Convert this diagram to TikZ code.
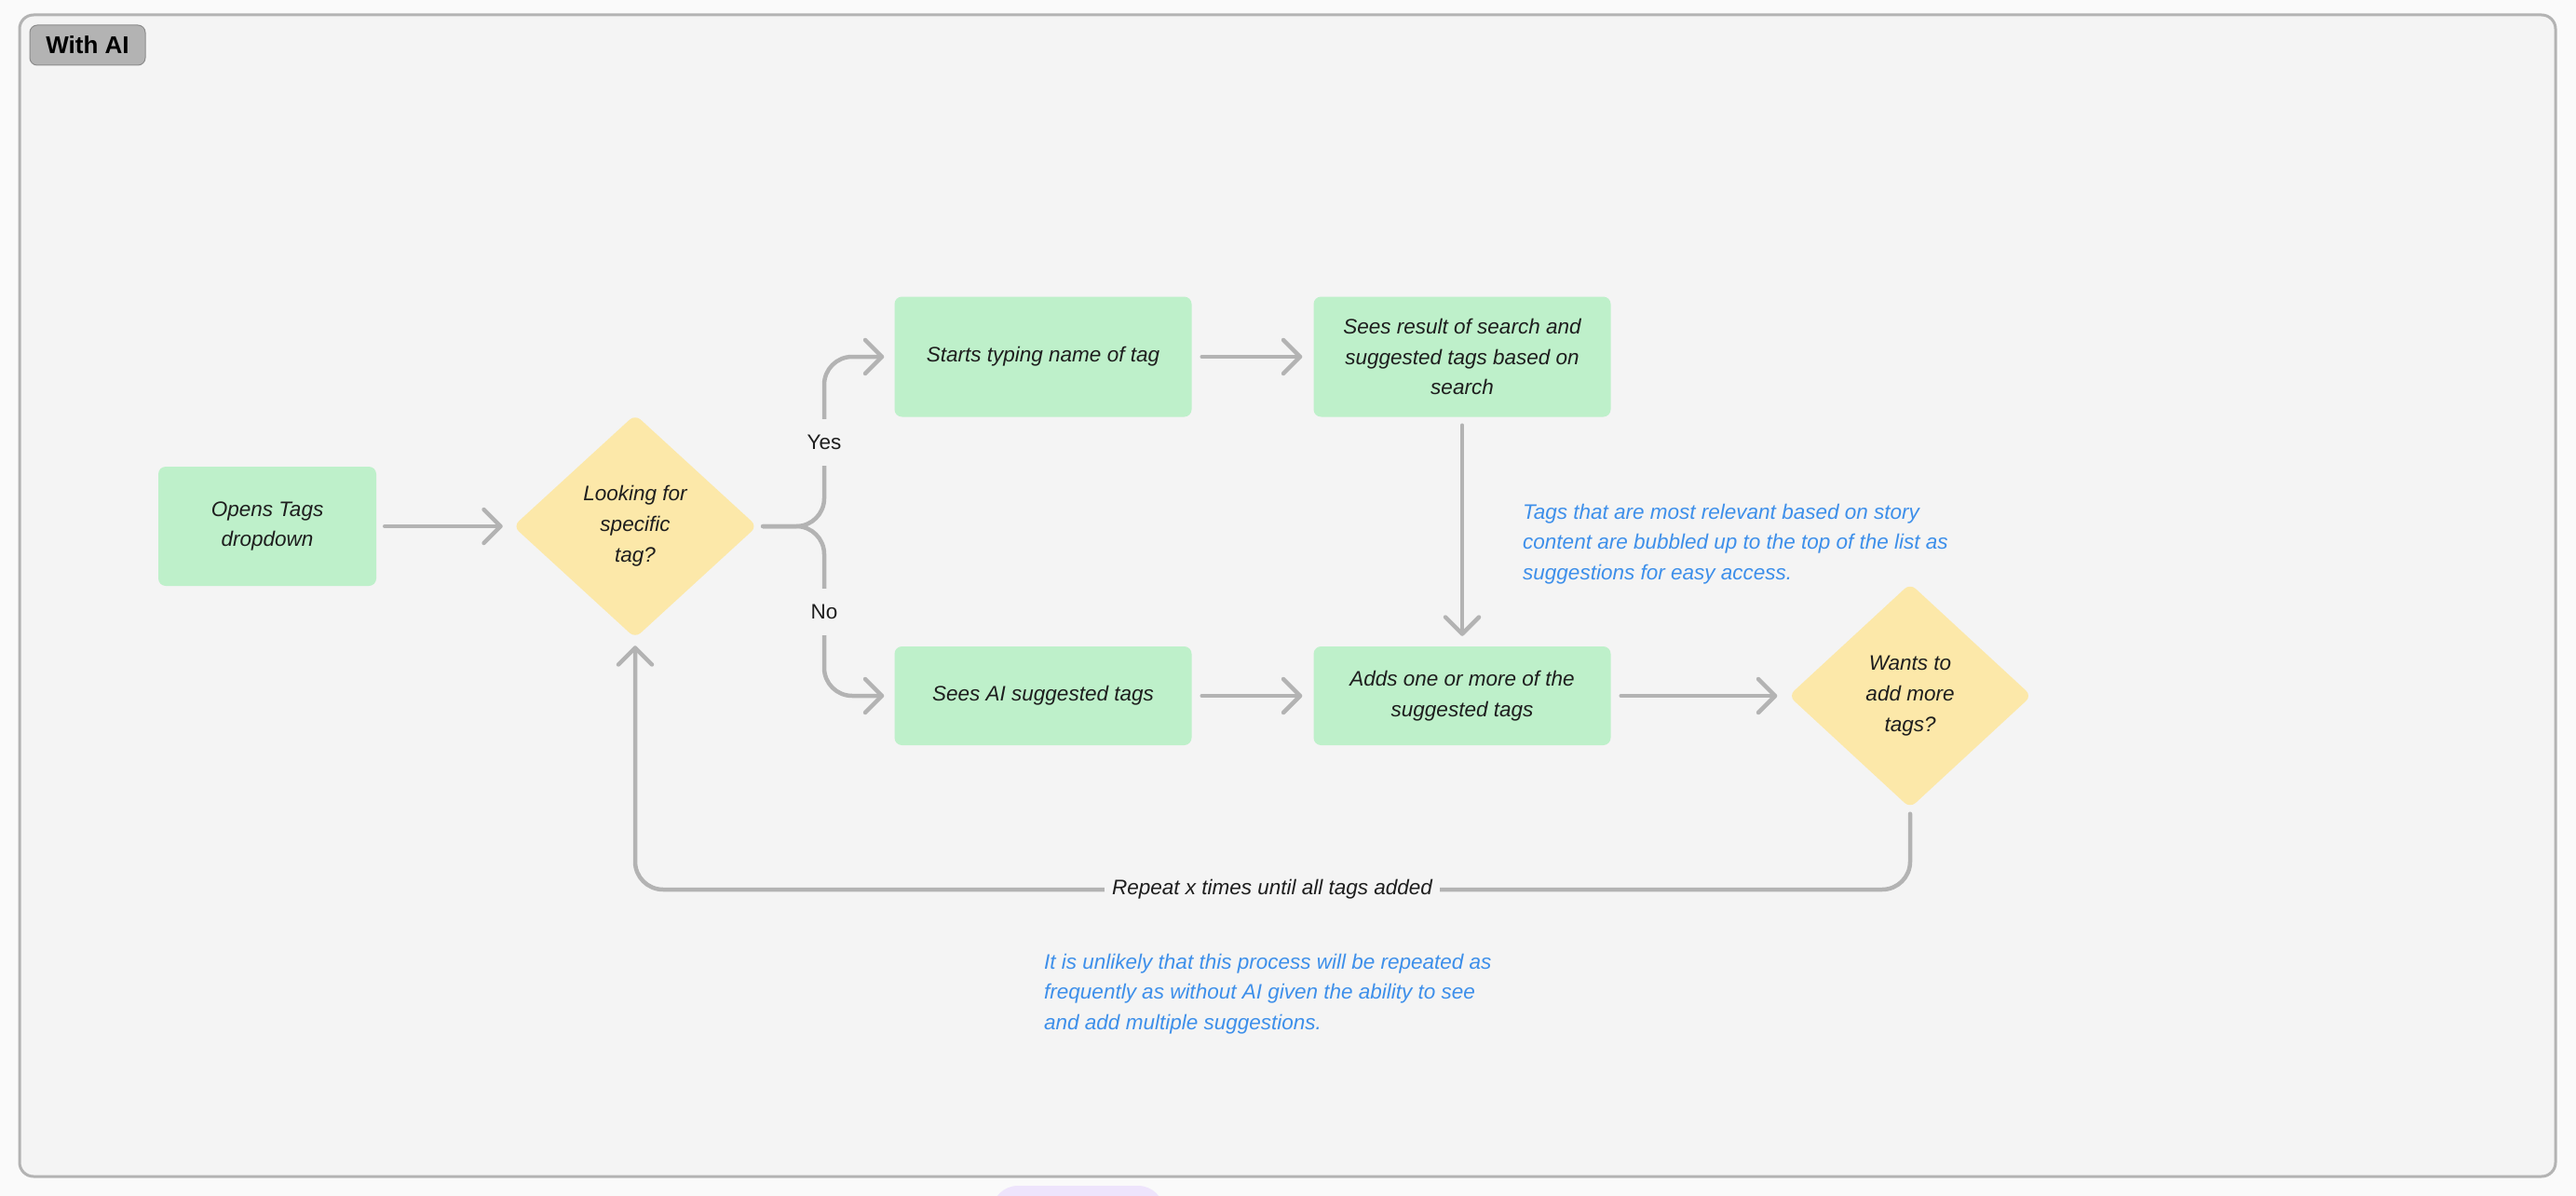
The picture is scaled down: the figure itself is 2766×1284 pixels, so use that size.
\documentclass[tikz,border=0pt]{standalone}
\usepackage{fontspec}
\setmainfont{Liberation Sans}
\usetikzlibrary{arrows.meta,shapes.geometric}
\definecolor{bgout}{HTML}{FAFAFA}
\definecolor{framefill}{HTML}{F4F4F4}
\definecolor{edgegrey}{HTML}{B3B3B3}
\definecolor{boxgreen}{HTML}{BEF0CA}
\definecolor{boxyellow}{HTML}{FCE8A9}
\definecolor{notecol}{HTML}{3D8FEA}
\definecolor{ink}{HTML}{1E1E1E}
\definecolor{lav}{HTML}{EEE4FC}
\begin{document}
\begin{tikzpicture}[x=1pt,y=-1pt,
  stepbox/.style={rectangle, rounded corners=8pt, fill=boxgreen, minimum width=319pt, text=ink,
    font=\fontsize{22.5}{32.5}\selectfont\itshape, align=center, inner sep=0pt},
  decision/.style={diamond, rounded corners=8pt, fill=boxyellow, inner sep=0pt, text=ink,
    font=\fontsize{22.5}{33}\selectfont\itshape, align=center},
  conn/.style={draw=edgegrey, line width=4.5pt, line cap=round, line join=round,
    -{Straight Barb[length=18pt,width=36pt,round]}},
  lbl/.style={fill=framefill, text=ink, font=\fontsize{22.5}{27}\selectfont, inner xsep=8pt, inner ysep=17pt},
  notetext/.style={text=notecol, font=\fontsize{22.5}{32.5}\selectfont\itshape, align=left, anchor=west, inner sep=0pt}
]
\useasboundingbox (0,0) rectangle (2766,1284);
\fill[bgout] (0,0) rectangle (2766,1284);
\begin{scope}
  \clip (0,0) rectangle (2766,1284);
  \fill[lav, rounded corners=28pt] (1065,1273) rectangle (1250,1340);
\end{scope}
\draw[edgegrey, line width=3pt, fill=framefill, rounded corners=15pt] (21,16) rectangle (2744,1263);

\node[fill=edgegrey, draw=black!45, line width=1pt, rounded corners=8pt, minimum width=124pt, minimum height=43pt,
  inner sep=0pt, font=\fontsize{26}{30}\selectfont\bfseries] (title) at (94,48.5) {With AI};

\node[stepbox, minimum width=234pt, minimum height=128pt] (opens) at (287,565) {Opens Tags\\dropdown};
\node[decision, minimum width=262pt, minimum height=240pt] (d1) at (682,565) {Looking for\\specific\\tag?};
\node[stepbox, minimum height=129pt] (st) at (1120,383) {Starts typing name of tag};
\node[stepbox, minimum height=129pt] (sr) at (1570,383) {Sees result of search and\\suggested tags based on\\search};
\node[stepbox, minimum height=106pt] (ai) at (1120,747) {Sees AI suggested tags};
\node[stepbox, minimum height=106pt] (ad) at (1570,747) {Adds one or more of the\\suggested tags};
\node[decision, minimum width=261pt, minimum height=241pt] (d2) at (2051,747) {Wants to\\add more\\tags?};

\coordinate (bx) at (885,565);
\coordinate (lp) at (2051,955);

\draw[conn, shorten <=9pt, shorten >=11pt] (opens.east) -- (d1.west);
\draw[conn, rounded corners=30pt] ([xshift=6pt]d1.east) -- (bx) -- (bx |- st.west) -- ([xshift=-11pt]st.west);
\draw[conn, rounded corners=30pt] ([xshift=6pt]d1.east) -- (bx) -- (bx |- ai.west) -- ([xshift=-11pt]ai.west);
\draw[conn, shorten <=11pt, shorten >=12pt] (st.east) -- (sr.west);
\draw[conn, shorten <=11pt, shorten >=12pt] (ai.east) -- (ad.west);
\draw[conn, shorten <=9pt, shorten >=11pt] (sr.south) -- (ad.north);
\draw[conn, shorten <=11pt, shorten >=12pt] (ad.east) -- (d2.west);
\draw[conn, rounded corners=30pt] ([yshift=-6pt]d2.south) -- (lp) -- (lp -| d1.south) -- ([yshift=-8pt]d1.south);

\node[lbl] (yes) at (885,475) {Yes};
\node[lbl] (no) at (885,657) {No};
\node[lbl, inner ysep=6pt, font=\fontsize{22.5}{27}\selectfont\itshape] (rep) at (1366,955) {Repeat x times until all tags added};

\node[notetext] (n1) at (1635,584) {Tags that are most relevant based on story\\content are bubbled up to the top of the list as\\suggestions for easy access.};
\node[notetext] (n2) at (1121,1067) {It is unlikely that this process will be repeated as\\frequently as without AI given the ability to see\\and add multiple suggestions.};
\end{tikzpicture}
\end{document}
